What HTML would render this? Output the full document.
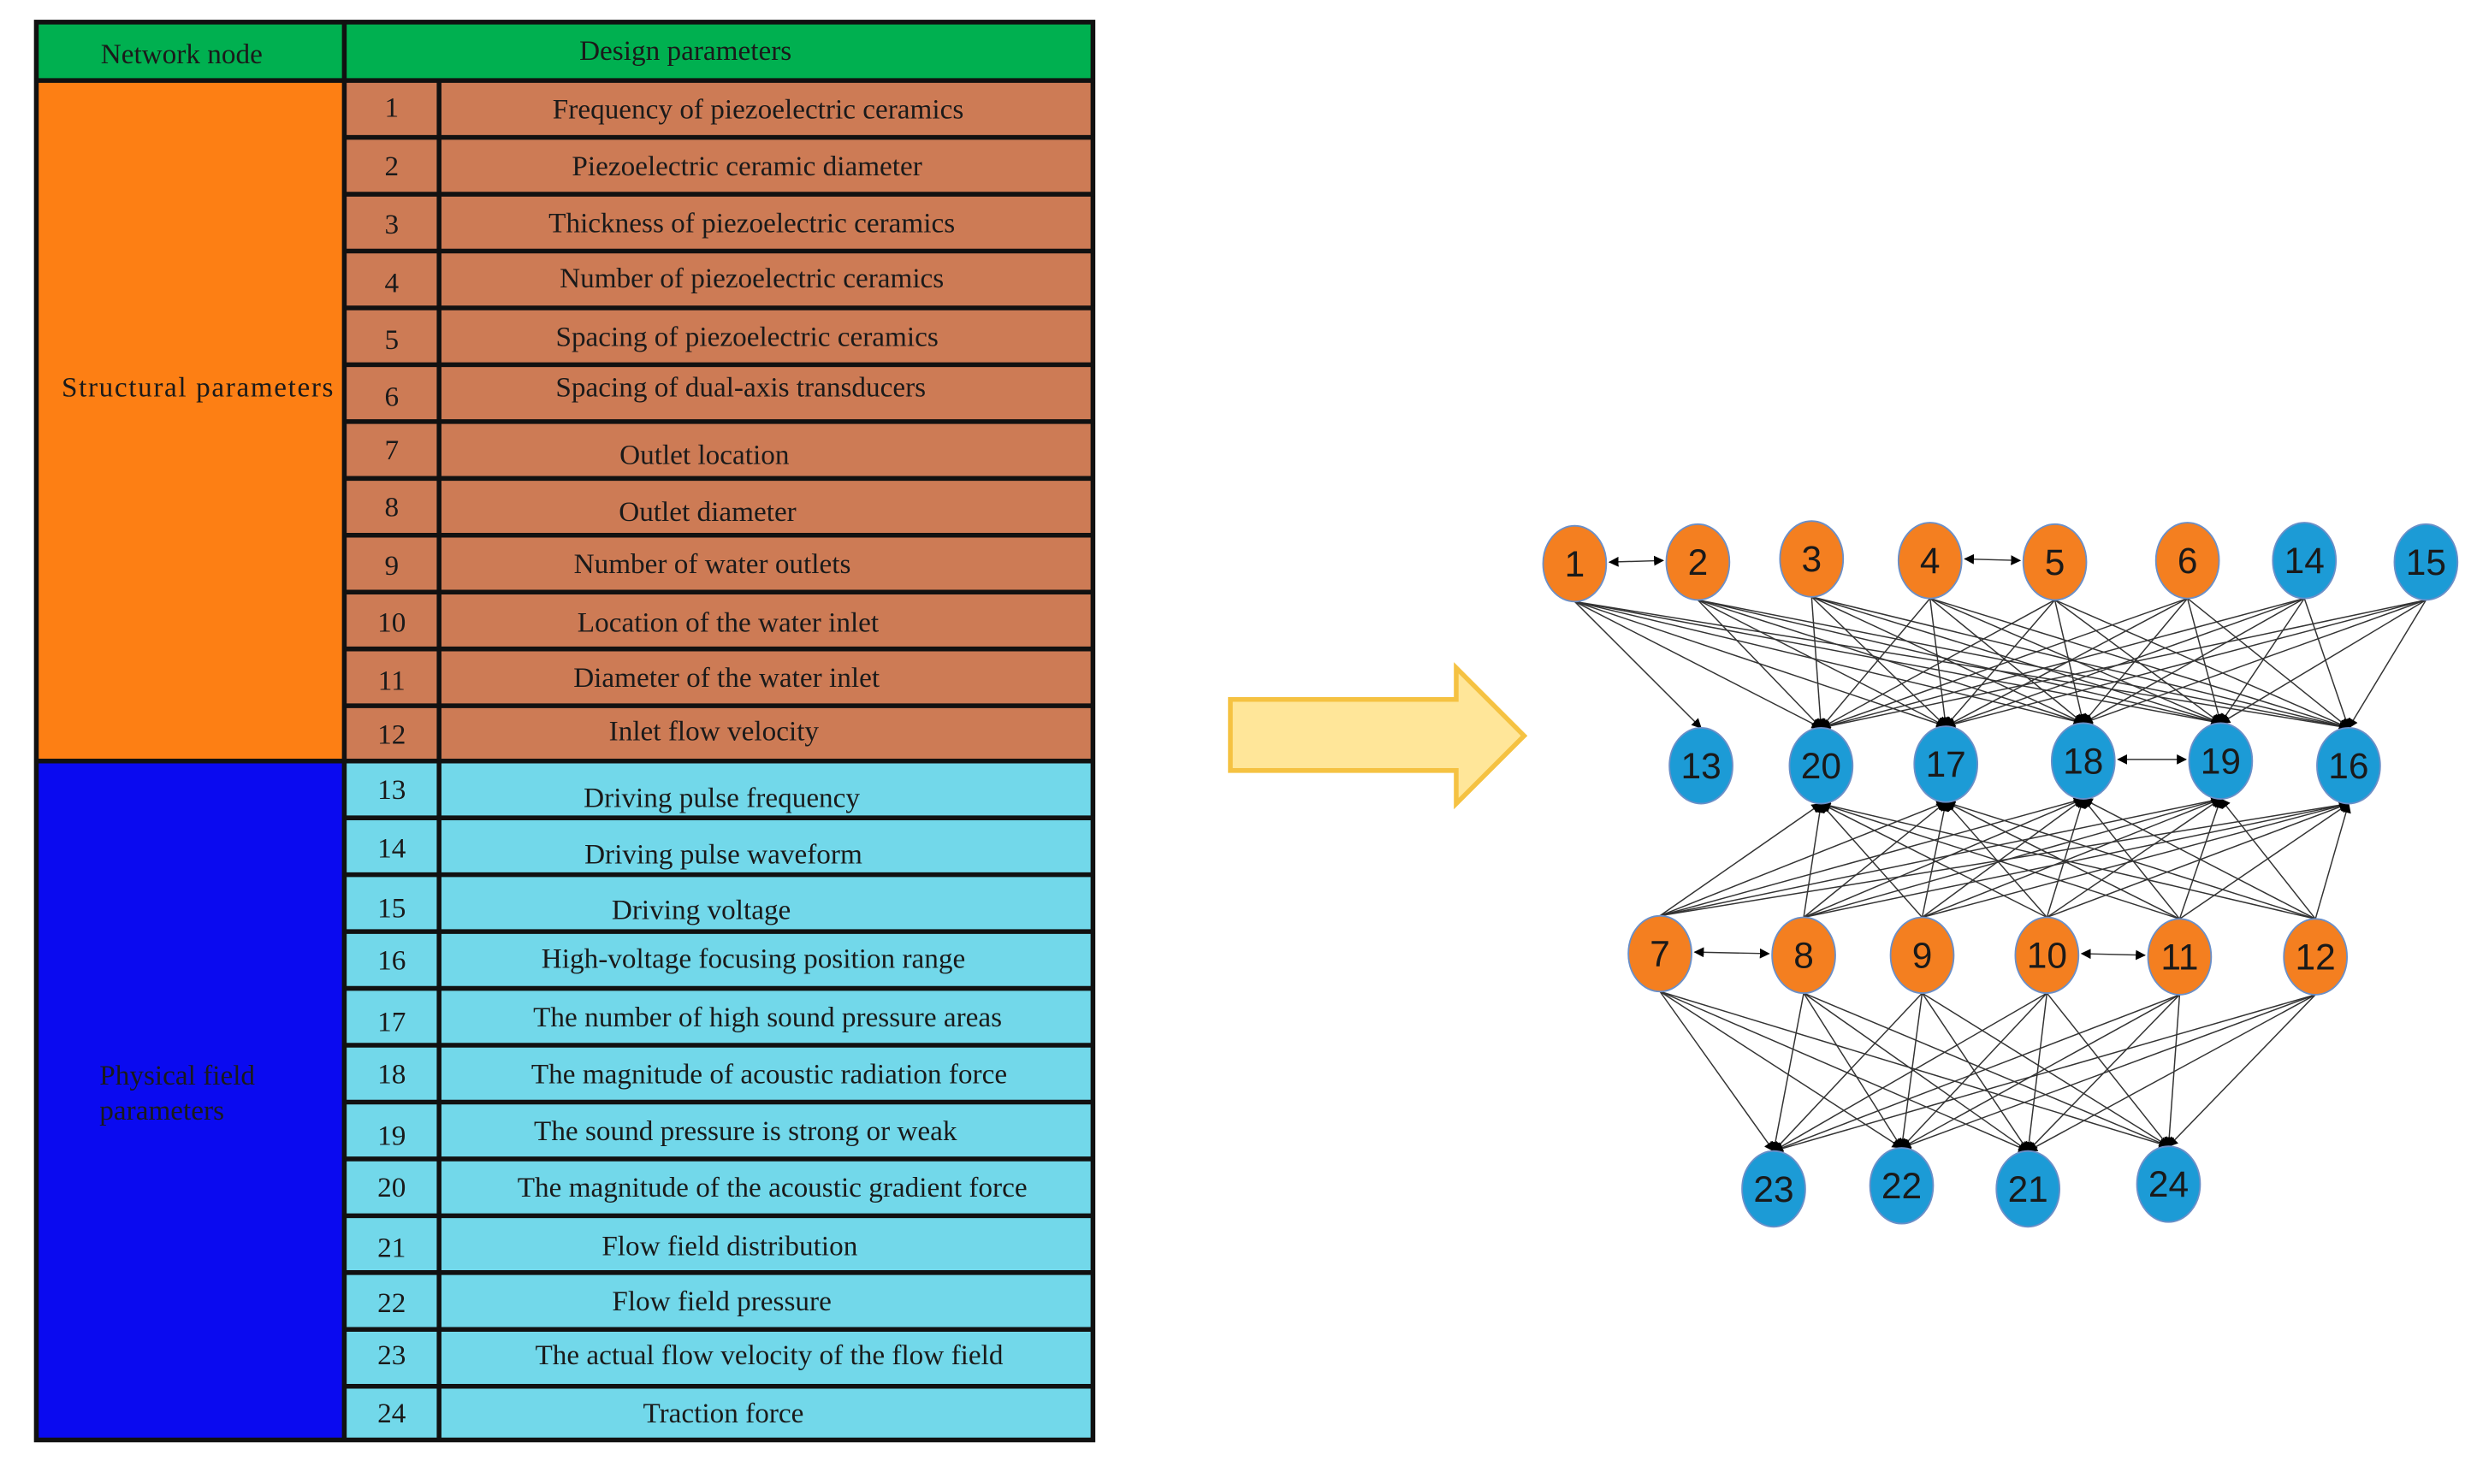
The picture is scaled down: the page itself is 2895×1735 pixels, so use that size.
<!DOCTYPE html>
<html><head><meta charset="utf-8"><style>html,body{margin:0;padding:0;background:#fff}svg{display:block}</style></head>
<body>
<svg id="s" xmlns="http://www.w3.org/2000/svg" width="2895" height="1735" viewBox="0 0 1568.3 939.9">
<defs>
<marker id="ah" viewBox="0 0 10 10" refX="9" refY="5" markerWidth="8" markerHeight="8" orient="auto-start-reverse"><path d="M0,0 L10,5 L0,10 z" fill="#000"/></marker>
</defs>
<rect x="0" y="0" width="1568.3" height="939.9" fill="#fff"/>
<rect x="22" y="13" width="671" height="38" fill="#00b050"/>
<rect x="22" y="51" width="196" height="431" fill="#fd7f14"/>
<rect x="218" y="51" width="475" height="431" fill="#cd7b55"/>
<rect x="22" y="482" width="196" height="431" fill="#0a0af0"/>
<rect x="218" y="482" width="475" height="431" fill="#72d8ea"/>
<g stroke="#111" stroke-width="3" fill="none">
<rect x="23" y="14" width="669" height="898"/>
<line x1="22" y1="51" x2="693" y2="51"/>
<line x1="22" y1="482" x2="693" y2="482"/>
<line x1="218" y1="14" x2="218" y2="912"/>
<line x1="278" y1="51" x2="278" y2="912"/>
<line x1="218" y1="87" x2="693" y2="87"/><line x1="218" y1="123" x2="693" y2="123"/><line x1="218" y1="159" x2="693" y2="159"/><line x1="218" y1="195" x2="693" y2="195"/><line x1="218" y1="231" x2="693" y2="231"/><line x1="218" y1="267" x2="693" y2="267"/><line x1="218" y1="303" x2="693" y2="303"/><line x1="218" y1="339" x2="693" y2="339"/><line x1="218" y1="375" x2="693" y2="375"/><line x1="218" y1="411" x2="693" y2="411"/><line x1="218" y1="447" x2="693" y2="447"/>
<line x1="218" y1="518" x2="693" y2="518"/><line x1="218" y1="554" x2="693" y2="554"/><line x1="218" y1="590" x2="693" y2="590"/><line x1="218" y1="626" x2="693" y2="626"/><line x1="218" y1="662" x2="693" y2="662"/><line x1="218" y1="698" x2="693" y2="698"/><line x1="218" y1="734" x2="693" y2="734"/><line x1="218" y1="770" x2="693" y2="770"/><line x1="218" y1="806" x2="693" y2="806"/><line x1="218" y1="842" x2="693" y2="842"/><line x1="218" y1="878" x2="693" y2="878"/>
</g>
<g font-family="Liberation Serif, serif" font-size="18" fill="#1a1a1a" text-anchor="middle">
<text x="115" y="40">Network node</text>
<text x="434" y="38">Design parameters</text>
<text x="125" y="251" textLength="172">Structural parameters</text>
<text x="63" y="687" text-anchor="start">Physical field</text>
<text x="63" y="709" text-anchor="start">parameters</text>
</g>
<g font-family="Liberation Serif, serif" font-size="18" fill="#1a1a1a" text-anchor="middle">
<text x="248" y="74">1</text><text x="480" y="75">Frequency of piezoelectric ceramics</text>
<text x="248" y="111">2</text><text x="473" y="111">Piezoelectric ceramic diameter</text>
<text x="248" y="148">3</text><text x="476" y="147">Thickness of piezoelectric ceramics</text>
<text x="248" y="185">4</text><text x="476" y="182">Number of piezoelectric ceramics</text>
<text x="248" y="221">5</text><text x="473" y="219">Spacing of piezoelectric ceramics</text>
<text x="248" y="257">6</text><text x="469" y="251">Spacing of dual-axis transducers</text>
<text x="248" y="291">7</text><text x="446" y="294">Outlet location</text>
<text x="248" y="327">8</text><text x="448" y="330">Outlet diameter</text>
<text x="248" y="364">9</text><text x="451" y="363">Number of water outlets</text>
<text x="248" y="400">10</text><text x="461" y="400">Location of the water inlet</text>
<text x="248" y="437">11</text><text x="460" y="435">Diameter of the water inlet</text>
<text x="248" y="471">12</text><text x="452" y="469">Inlet flow velocity</text>
<text x="248" y="506">13</text><text x="457" y="511">Driving pulse frequency</text>
<text x="248" y="543">14</text><text x="458" y="547">Driving pulse waveform</text>
<text x="248" y="581">15</text><text x="444" y="582">Driving voltage</text>
<text x="248" y="614">16</text><text x="477" y="613">High-voltage focusing position range</text>
<text x="248" y="653">17</text><text x="486" y="650">The number of high sound pressure areas</text>
<text x="248" y="686">18</text><text x="487" y="686">The magnitude of acoustic radiation force</text>
<text x="248" y="725">19</text><text x="472" y="722">The sound pressure is strong or weak</text>
<text x="248" y="758">20</text><text x="489" y="758">The magnitude of the acoustic gradient force</text>
<text x="248" y="796">21</text><text x="462" y="795">Flow field distribution</text>
<text x="248" y="831">22</text><text x="457" y="830">Flow field pressure</text>
<text x="248" y="864">23</text><text x="487" y="864">The actual flow velocity of the flow field</text>
<text x="248" y="901">24</text><text x="458" y="901">Traction force</text>
</g>
<path d="M779,443 L922,443 L922,423 L965,466 L922,509 L922,488 L779,488 z" fill="#ffe699" stroke="#f5c242" stroke-width="3"/>
<g id="edges" stroke="#333" stroke-width="0.8" fill="none"></g>
<g font-family="Liberation Sans, sans-serif" font-size="23" text-anchor="middle" stroke="#6a8fc8" stroke-width="1">
<ellipse cx="997" cy="357" rx="20" ry="24" fill="#f47f20"/><ellipse cx="1075" cy="356" rx="20" ry="24" fill="#f47f20"/><ellipse cx="1147" cy="354" rx="20" ry="24" fill="#f47f20"/><ellipse cx="1222" cy="355" rx="20" ry="24" fill="#f47f20"/><ellipse cx="1301" cy="356" rx="20" ry="24" fill="#f47f20"/><ellipse cx="1385" cy="355" rx="20" ry="24" fill="#f47f20"/><ellipse cx="1459" cy="355" rx="20" ry="24" fill="#1c9bd6"/><ellipse cx="1536" cy="356" rx="20" ry="24" fill="#1c9bd6"/>
<ellipse cx="1077" cy="485" rx="20" ry="24" fill="#1c9bd6"/><ellipse cx="1153" cy="485" rx="20" ry="24" fill="#1c9bd6"/><ellipse cx="1232" cy="484" rx="20" ry="24" fill="#1c9bd6"/><ellipse cx="1319" cy="482" rx="20" ry="24" fill="#1c9bd6"/><ellipse cx="1406" cy="482" rx="20" ry="24" fill="#1c9bd6"/><ellipse cx="1487" cy="485" rx="20" ry="24" fill="#1c9bd6"/>
<ellipse cx="1051" cy="604" rx="20" ry="24" fill="#f47f20"/><ellipse cx="1142" cy="605" rx="20" ry="24" fill="#f47f20"/><ellipse cx="1217" cy="605" rx="20" ry="24" fill="#f47f20"/><ellipse cx="1296" cy="605" rx="20" ry="24" fill="#f47f20"/><ellipse cx="1380" cy="606" rx="20" ry="24" fill="#f47f20"/><ellipse cx="1466" cy="606" rx="20" ry="24" fill="#f47f20"/>
<ellipse cx="1123" cy="753" rx="20" ry="24" fill="#1c9bd6"/><ellipse cx="1204" cy="751" rx="20" ry="24" fill="#1c9bd6"/><ellipse cx="1284" cy="753" rx="20" ry="24" fill="#1c9bd6"/><ellipse cx="1373" cy="750" rx="20" ry="24" fill="#1c9bd6"/>
<g stroke="none" fill="#1a1a1a">
<text x="997" y="365">1</text><text x="1075" y="364">2</text><text x="1147" y="362">3</text><text x="1222" y="363">4</text><text x="1301" y="364">5</text><text x="1385" y="363">6</text><text x="1459" y="363">14</text><text x="1536" y="364">15</text>
<text x="1077" y="493">13</text><text x="1153" y="493">20</text><text x="1232" y="492">17</text><text x="1319" y="490">18</text><text x="1406" y="490">19</text><text x="1487" y="493">16</text>
<text x="1051" y="612">7</text><text x="1142" y="613">8</text><text x="1217" y="613">9</text><text x="1296" y="613">10</text><text x="1380" y="614">11</text><text x="1466" y="614">12</text>
<text x="1123" y="761">23</text><text x="1204" y="759">22</text><text x="1284" y="761">21</text><text x="1373" y="758">24</text>
</g>
</g>
<script>
(function(){
var N={1:[997,357],2:[1075,356],3:[1147,354],4:[1222,355],5:[1301,356],6:[1385,355],14:[1459,355],15:[1536,356],
13:[1077,485],20:[1153,485],17:[1232,484],18:[1319,482],19:[1406,482],16:[1487,485],
7:[1051,604],8:[1142,605],9:[1217,605],10:[1296,605],11:[1380,606],12:[1466,606],
23:[1123,753],22:[1204,751],21:[1284,753],24:[1373,750]};
var g=document.getElementById('edges'),ns='http://www.w3.org/2000/svg';
function L(x1,y1,x2,y2,bi){var l=document.createElementNS(ns,'line');l.setAttribute('x1',x1);l.setAttribute('y1',y1);l.setAttribute('x2',x2);l.setAttribute('y2',y2);l.setAttribute('marker-end','url(#ah)');if(bi)l.setAttribute('marker-start','url(#ah)');g.appendChild(l);}
var top=[1,2,3,4,5,6,14,15],mid=[20,17,18,19,16],r3=[7,8,9,10,11,12],bot=[23,22,21,24];
top.forEach(function(a){mid.forEach(function(b){L(N[a][0],N[a][1]+24,N[b][0],N[b][1]-24);});});
L(N[1][0],N[1][1]+24,N[13][0],N[13][1]-24);
r3.forEach(function(a){mid.forEach(function(b){L(N[a][0],N[a][1]-24,N[b][0],N[b][1]+24);});});
r3.forEach(function(a){bot.forEach(function(b){L(N[a][0],N[a][1]+24,N[b][0],N[b][1]-24);});});
[[1,2],[4,5],[18,19],[7,8],[10,11]].forEach(function(p){var a=N[p[0]],b=N[p[1]];L(a[0]+22,a[1]-1,b[0]-22,b[1]-1,true);});
})();
</script>
</svg>
</body></html>
